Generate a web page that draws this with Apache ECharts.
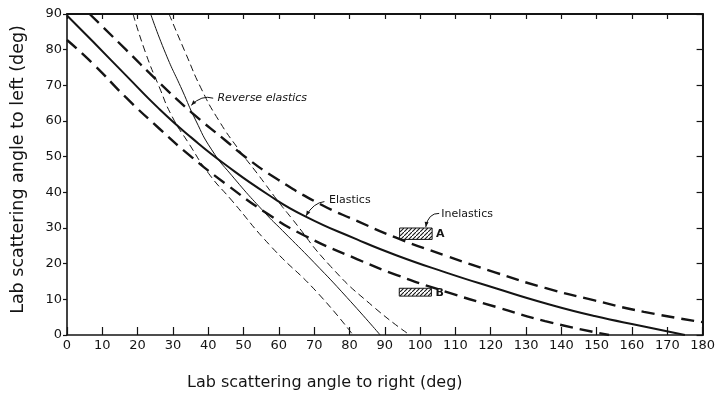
<!DOCTYPE html>
<html><head><meta charset="utf-8">
<script src="https://cdn.jsdelivr.net/npm/echarts@6/dist/echarts.min.js"></script>
<style>html,body{margin:0;padding:0;background:#fff}#c{width:718px;height:396px}</style>
</head><body><div id="c"></div>
<script>
// ---- data (degrees) ----
const xTitle = 'Lab scattering angle to right (deg)';
const yTitle = 'Lab scattering angle to left (deg)';
const elasticsSolid = [[0,89.6],[7.4,82.2],[16.7,72.8],[26.1,63.4],[35.4,55.2],[44.8,47.8],[56.9,39.4],[67.2,33.4],[82.1,26.8],[93.4,22.3],[107.4,17.5],[121.4,13.1],[135.4,8.9],[149.4,5.3],[163.4,2.4],[175,0]];
const elasticsUpper = [[6.4,90],[16.7,80.0],[26.1,70.8],[35.4,62.3],[44.8,54.6],[50.4,50.0],[59.7,43.6],[71.9,36.6],[82.1,32.0],[93.4,27.2],[107.4,22.2],[121.4,17.5],[135.4,13.2],[149.4,9.7],[163.4,6.5],[180,3.6]];
const elasticsLower = [[0,82.7],[7.4,76.0],[16.7,66.6],[26.1,57.9],[35.4,49.8],[44.8,42.5],[56.9,33.9],[67.2,27.9],[82.1,21.3],[93.4,16.8],[107.4,12.1],[121.4,7.9],[135.4,3.9],[153.5,0]];
const reverseLeft = [[18.7,90],[22.3,79.0],[26.1,69.6],[29.8,61.2],[34.5,53.7],[40.1,45.3],[46.6,37.8],[57.8,24.8],[70.9,11.9],[81,0]];
const reverseMid = [[23.7,90],[27.9,79.0],[32.6,68.7],[36.4,60.3],[41,51.9],[46.6,44.8],[56,34.3],[61,29.3],[70,20.3],[79.3,10.5],[88.7,0]];
const reverseRight = [[28.9,90],[33.6,79.0],[38.2,68.7],[42.9,60.3],[48.5,52.2],[54.1,45.0],[59.7,37.6],[63.4,33.0],[74.7,19.2],[86.8,7.9],[97.1,0]];
// inelastic boxes: [xMin, xMax, yMin, yMax]
const inelasticBoxes = [[94.2,103.4,26.8,30.0],[94.1,103.2,10.9,13.1]];
const boxLabels = ['A','B'];
// annotations (data coords): text anchor, leader start, control, end
const annReverse = {text:'Reverse elastics', at:[42.6,66.4], start:[41.4,66.4], cp:[38.1,67.4], end:[35.2,64.4]};
const annElastic = {text:'Elastics', at:[74.2,37.8], start:[72.9,37.4], cp:[69.8,37.1], end:[67.7,33.4]};
const annInelastic = {text:'Inelastics', at:[106.0,33.9], start:[105.4,34.1], cp:[102.3,34.2], end:[101.6,30.3]};

const INK = '#141414';
const FONT = 'DejaVu Sans';

const hatchCanvas = document.createElement('canvas');
hatchCanvas.width = 4; hatchCanvas.height = 4;
(function(){const g = hatchCanvas.getContext('2d');
 g.fillStyle='#fff'; g.fillRect(0,0,4,4);
 g.strokeStyle=INK; g.lineWidth=1.1;
 g.beginPath(); g.moveTo(-1,5); g.lineTo(5,-1); g.stroke();})();

const chart = echarts.init(document.getElementById('c'), null, {renderer:'canvas'});

function lineSeries(name, data, width, dash){
  return {name, type:'line', data, smooth:0.55, symbol:'none', silent:true,
    xAxisIndex:0, yAxisIndex:0,
    lineStyle:{color:INK, width, type: dash || 'solid'}};
}

const axisCommon = {type:'value', splitLine:{show:false}};
chart.setOption({
  animation:false,
  backgroundColor:'#fff',
  grid:{left:67, right:9, top:14, bottom:61, containLabel:false},
  xAxis:[
    Object.assign({}, axisCommon, {position:'bottom', min:0, max:180, interval:10,
      axisLine:{onZero:false, lineStyle:{color:INK, width:1.6}},
      axisTick:{inside:true, length:8, lineStyle:{color:INK, width:1.2}},
      axisLabel:{color:INK, fontSize:13, fontFamily:FONT, margin:4},
      name:xTitle, nameLocation:'middle', nameGap:40,
      nameTextStyle:{color:INK, fontSize:16, fontFamily:FONT, padding:[0,120,0,0]}}),
    Object.assign({}, axisCommon, {position:'top', min:0, max:180, interval:10,
      axisLine:{onZero:false, lineStyle:{color:INK, width:2}},
      axisTick:{inside:true, length:5, lineStyle:{color:INK, width:1.2}},
      axisLabel:{show:false}})
  ],
  yAxis:[
    Object.assign({}, axisCommon, {position:'left', min:0, max:90, interval:10,
      axisLine:{onZero:false, lineStyle:{color:INK, width:1.6}},
      axisTick:{inside:false, length:4, lineStyle:{color:INK, width:1.2}},
      axisLabel:{color:INK, fontSize:13, fontFamily:FONT, margin:5},
      name:yTitle, nameLocation:'middle', nameGap:40,
      nameTextStyle:{color:INK, fontSize:17.5, fontFamily:FONT, padding:[0,0,0,10]}}),
    Object.assign({}, axisCommon, {position:'right', min:0, max:90, interval:10,
      axisLine:{onZero:false, lineStyle:{color:INK, width:2}},
      axisTick:{inside:true, length:6, lineStyle:{color:INK, width:1.2}},
      axisLabel:{show:false}})
  ],
  series:[
    lineSeries('Elastics', elasticsSolid, 2),
    lineSeries('Elastics upper', elasticsUpper, 2.4, [13,7]),
    lineSeries('Elastics lower', elasticsLower, 2.4, [13,7]),
    lineSeries('Reverse elastics (left)', reverseLeft, 1, [7,4]),
    lineSeries('Reverse elastics', reverseMid, 1),
    lineSeries('Reverse elastics (right)', reverseRight, 1, [7,4]),
    {name:'Inelastics', type:'custom', xAxisIndex:0, yAxisIndex:0, silent:true,
     data: inelasticBoxes.map((b,i)=>({value:b, name:boxLabels[i]})),
     renderItem:function(params, api){
       const p0 = api.coord([api.value(0), api.value(3)]);
       const p1 = api.coord([api.value(1), api.value(2)]);
       return {type:'group', children:[
         {type:'rect', shape:{x:p0[0], y:p0[1], width:p1[0]-p0[0], height:p1[1]-p0[1]},
          style:{fill:{image:hatchCanvas, repeat:'repeat'}, stroke:INK, lineWidth:1}},
         {type:'text', x:p1[0]+4, y:(p0[1]+p1[1])/2+0.5,
          style:{text:boxLabels[params.dataIndex], fill:INK, font:'bold 11px "DejaVu Sans"', verticalAlign:'middle', align:'left'}}
       ]};
     }}
  ]
});

function px(p){ return chart.convertToPixel({xAxisIndex:0, yAxisIndex:0}, p); }
function annotation(a, font){
  const t = px(a.at), s = px(a.start), c = px(a.cp), e = px(a.end);
  const dx = e[0]-c[0], dy = e[1]-c[1], L = Math.hypot(dx,dy) || 1;
  const ux = dx/L, uy = dy/L, len = 5, w = 2;
  const bx = e[0]-ux*len, by = e[1]-uy*len;
  return [
    {type:'text', x:t[0], y:t[1], silent:true,
     style:{text:a.text, fill:INK, font:font, align:'left', verticalAlign:'middle'}},
    {type:'bezierCurve', silent:true, shape:{x1:s[0], y1:s[1], x2:e[0], y2:e[1], cpx1:c[0], cpy1:c[1]},
     style:{stroke:INK, lineWidth:1, fill:null}},
    {type:'polygon', silent:true, shape:{points:[[e[0],e[1]],[bx-uy*w, by+ux*w],[bx+uy*w, by-ux*w]]},
     style:{fill:INK}}
  ];
}
chart.setOption({graphic:[].concat(
  annotation(annReverse, 'italic 11px "DejaVu Sans"'),
  annotation(annElastic, '11px "DejaVu Sans"'),
  annotation(annInelastic, '11px "DejaVu Sans"')
)});
</script></body></html>
